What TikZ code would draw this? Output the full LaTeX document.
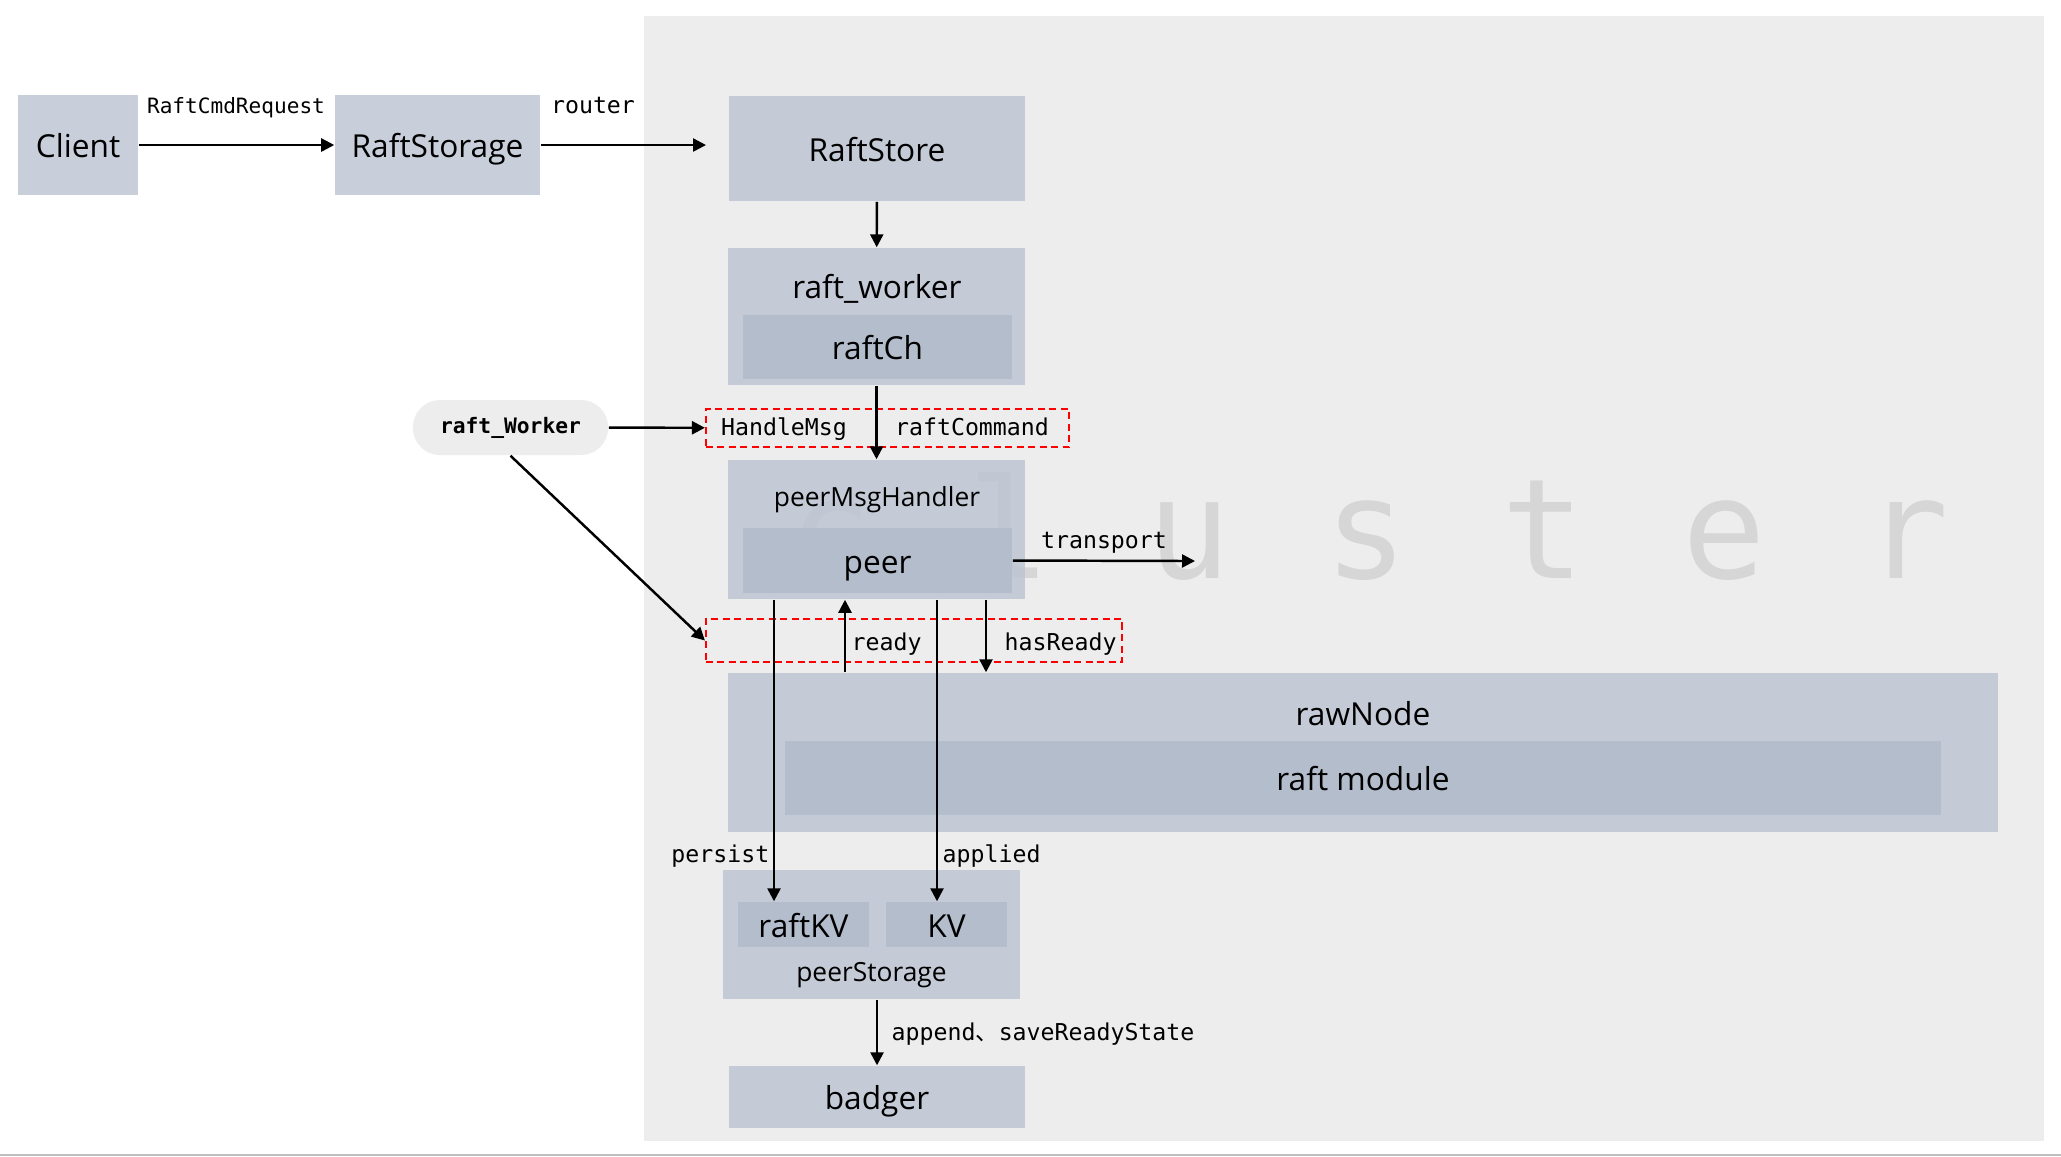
\documentclass[tikz,border=0pt]{standalone}
\usepackage{fontspec}
\setmainfont{Open Sans}
\setmonofont{DejaVu Sans Mono}
\newfontfamily\cjk{Noto Sans CJK SC}
\usetikzlibrary{positioning,arrows.meta}
\definecolor{boxc}{HTML}{BDC4D2}
\definecolor{inboxc}{HTML}{B1BBCB}
\definecolor{clusterc}{HTML}{EDEDED}
\definecolor{wmarkc}{HTML}{D6D6D6}
\definecolor{rulec}{HTML}{BFBFBF}
\tikzset{
  box/.style={fill=boxc,fill opacity=0.82,text opacity=1,inner sep=0pt,text height=0.71em,text depth=0pt,font=\fontsize{9}{11}\selectfont},
  inbox/.style={box,fill=inboxc},
  boxtext/.style={inner sep=0pt,text height=0.75em,text depth=0pt,font=\fontsize{9}{11}\selectfont},
  smalltext/.style={inner sep=0pt,text height=0.75em,text depth=0pt,font=\fontsize{7.5}{9}\selectfont},
  lbl/.style={inner sep=0pt,anchor=base,font=\ttfamily\fontsize{6.6}{8}\selectfont},
  pill/.style={fill=clusterc,inner sep=0pt,rounded corners=0.27cm,font=\ttfamily\bfseries\fontsize{6.05}{7}\selectfont},
  dbox/.style={draw=red,line width=0.55pt,dash pattern=on 0.07cm off 0.045cm,inner sep=0pt},
  arr/.style={line width=0.7pt,-{Triangle[length=0.13cm,width=0.13cm]}},
  wmark/.style={text=wmarkc,inner sep=0pt,anchor=base,font=\ttfamily\fontsize{39.5}{40}\selectfont}
}
\begin{document}
\begin{tikzpicture}[x=0.01cm,y=-0.01cm]
  \useasboundingbox (0,0) rectangle (2061,1156);
  \fill[white] (0,0) rectangle (2061,1156);
  \fill[clusterc] (644,16) rectangle (2044,1141);
  \draw[rulec,line width=0.02cm] (0,1155) -- (2061,1155);
  % cluster
  \foreach \ch/\px in {c/830,l/1009.5,u/1189,s/1366,t/1543,e/1724,r/1907}
    \node[wmark] at (\px,578) {\ch};

  \node[box,minimum width=1.2cm,minimum height=1cm] (client) at (78,145) {Client};
  \node[box,minimum width=2.05cm,minimum height=1cm] (rstorage) at (437.5,145) {RaftStorage};
  \node[box,minimum width=2.96cm,minimum height=1.05cm] (rstore) at (877,148.5) {RaftStore};

  \node[box,minimum width=2.97cm,minimum height=1.37cm] (worker) at (876.5,316.5) {};
  \node[inbox,minimum width=2.69cm,minimum height=0.64cm] (raftch) at (877.5,347) {raftCh};
  \node[boxtext] (workerlbl) at (877,285) {raft\_worker};

  \node[box,minimum width=2.97cm,minimum height=1.39cm] (peermsg) at (876.5,529.5) {};
  \node[inbox,minimum width=2.69cm,minimum height=0.65cm] (peer) at (877.5,560.5) {peer};
  \node[smalltext] (peermsglbl) at (877,493) {peerMsgHandler};

  \node[box,minimum width=12.7cm,minimum height=1.59cm] (rawnode) at (1363,752.5) {};
  \node[inbox,minimum width=11.56cm,minimum height=0.74cm] (raftmod) at (1363,778) {raft module};
  \node[boxtext] (rawnodelbl) at (1363,712) {rawNode};

  \node[box,minimum width=2.97cm,minimum height=1.29cm] (pstorage) at (871.5,934.5) {};
  \node[inbox,minimum width=1.3cm,minimum height=0.45cm] (raftkv) at (803.5,924.5) {raftKV};
  \node[inbox,minimum width=1.21cm,minimum height=0.45cm] (kv) at (946.5,924.5) {KV};
  \node[smalltext] (pstoragelbl) at (871.5,968) {peerStorage};

  \node[box,minimum width=2.96cm,minimum height=0.62cm] (badger) at (877,1097) {badger};

  \node[pill,minimum width=1.95cm,minimum height=0.55cm] (rworker) at (510.5,427.5) {raft\_Worker};
  \node[dbox,minimum width=3.63cm,minimum height=0.38cm] (cmdbox) at (887.5,428) {};
  \node[dbox,minimum width=4.16cm,minimum height=0.43cm] (readybox) at (914,640.5) {};

  \coordinate (rin) at (706,145);
  \coordinate (tout) at (1195,561);

  \draw[arr] (client) -- (rstorage);
  \draw[arr] (rstorage) -- (rin);
  \draw[arr] (rstore) -- (worker);
  \draw[arr] (worker) -- (peermsg);
  \draw[arr] (rworker) -- (cmdbox);
  \draw[arr] (rworker.south) -- (readybox.west);
  \draw[arr] (peer.east) -- (tout);
  \draw[arr] (774,0 |- peermsg.south) -- (774,0 |- raftkv.north);
  \draw[arr] (845,0 |- rawnode.north) -- (845,0 |- peermsg.south);
  \draw[arr] (937,0 |- peermsg.south) -- (937,0 |- kv.north);
  \draw[arr] (986,0 |- peermsg.south) -- (986,0 |- rawnode.north);
  \draw[arr] (877,0 |- pstorage.south) -- (877,0 |- badger.north);

  \node[lbl,font=\ttfamily\fontsize{6}{7}\selectfont] (cmdreq) at (236,113) {RaftCmdRequest};
  \node[lbl] (router) at (593,113) {router};
  \node[lbl] (handlemsg) at (784,435) {HandleMsg};
  \node[lbl] (raftcmd) at (972,435) {raftCommand};
  \node[lbl] (transport) at (1104,548) {transport};
  \node[lbl,anchor=base west] (ready) at (851,650) {ready};
  \node[lbl,anchor=base west] (hasready) at (1004,650) {hasReady};
  \node[lbl,anchor=base east] (persist) at (770,862) {persist};
  \node[lbl,anchor=base west] (applied) at (942,862) {applied};
  \node[lbl,anchor=base west] (append) at (891,1040) {append{\cjk 、}saveReadyState};
\end{tikzpicture}
\end{document}
